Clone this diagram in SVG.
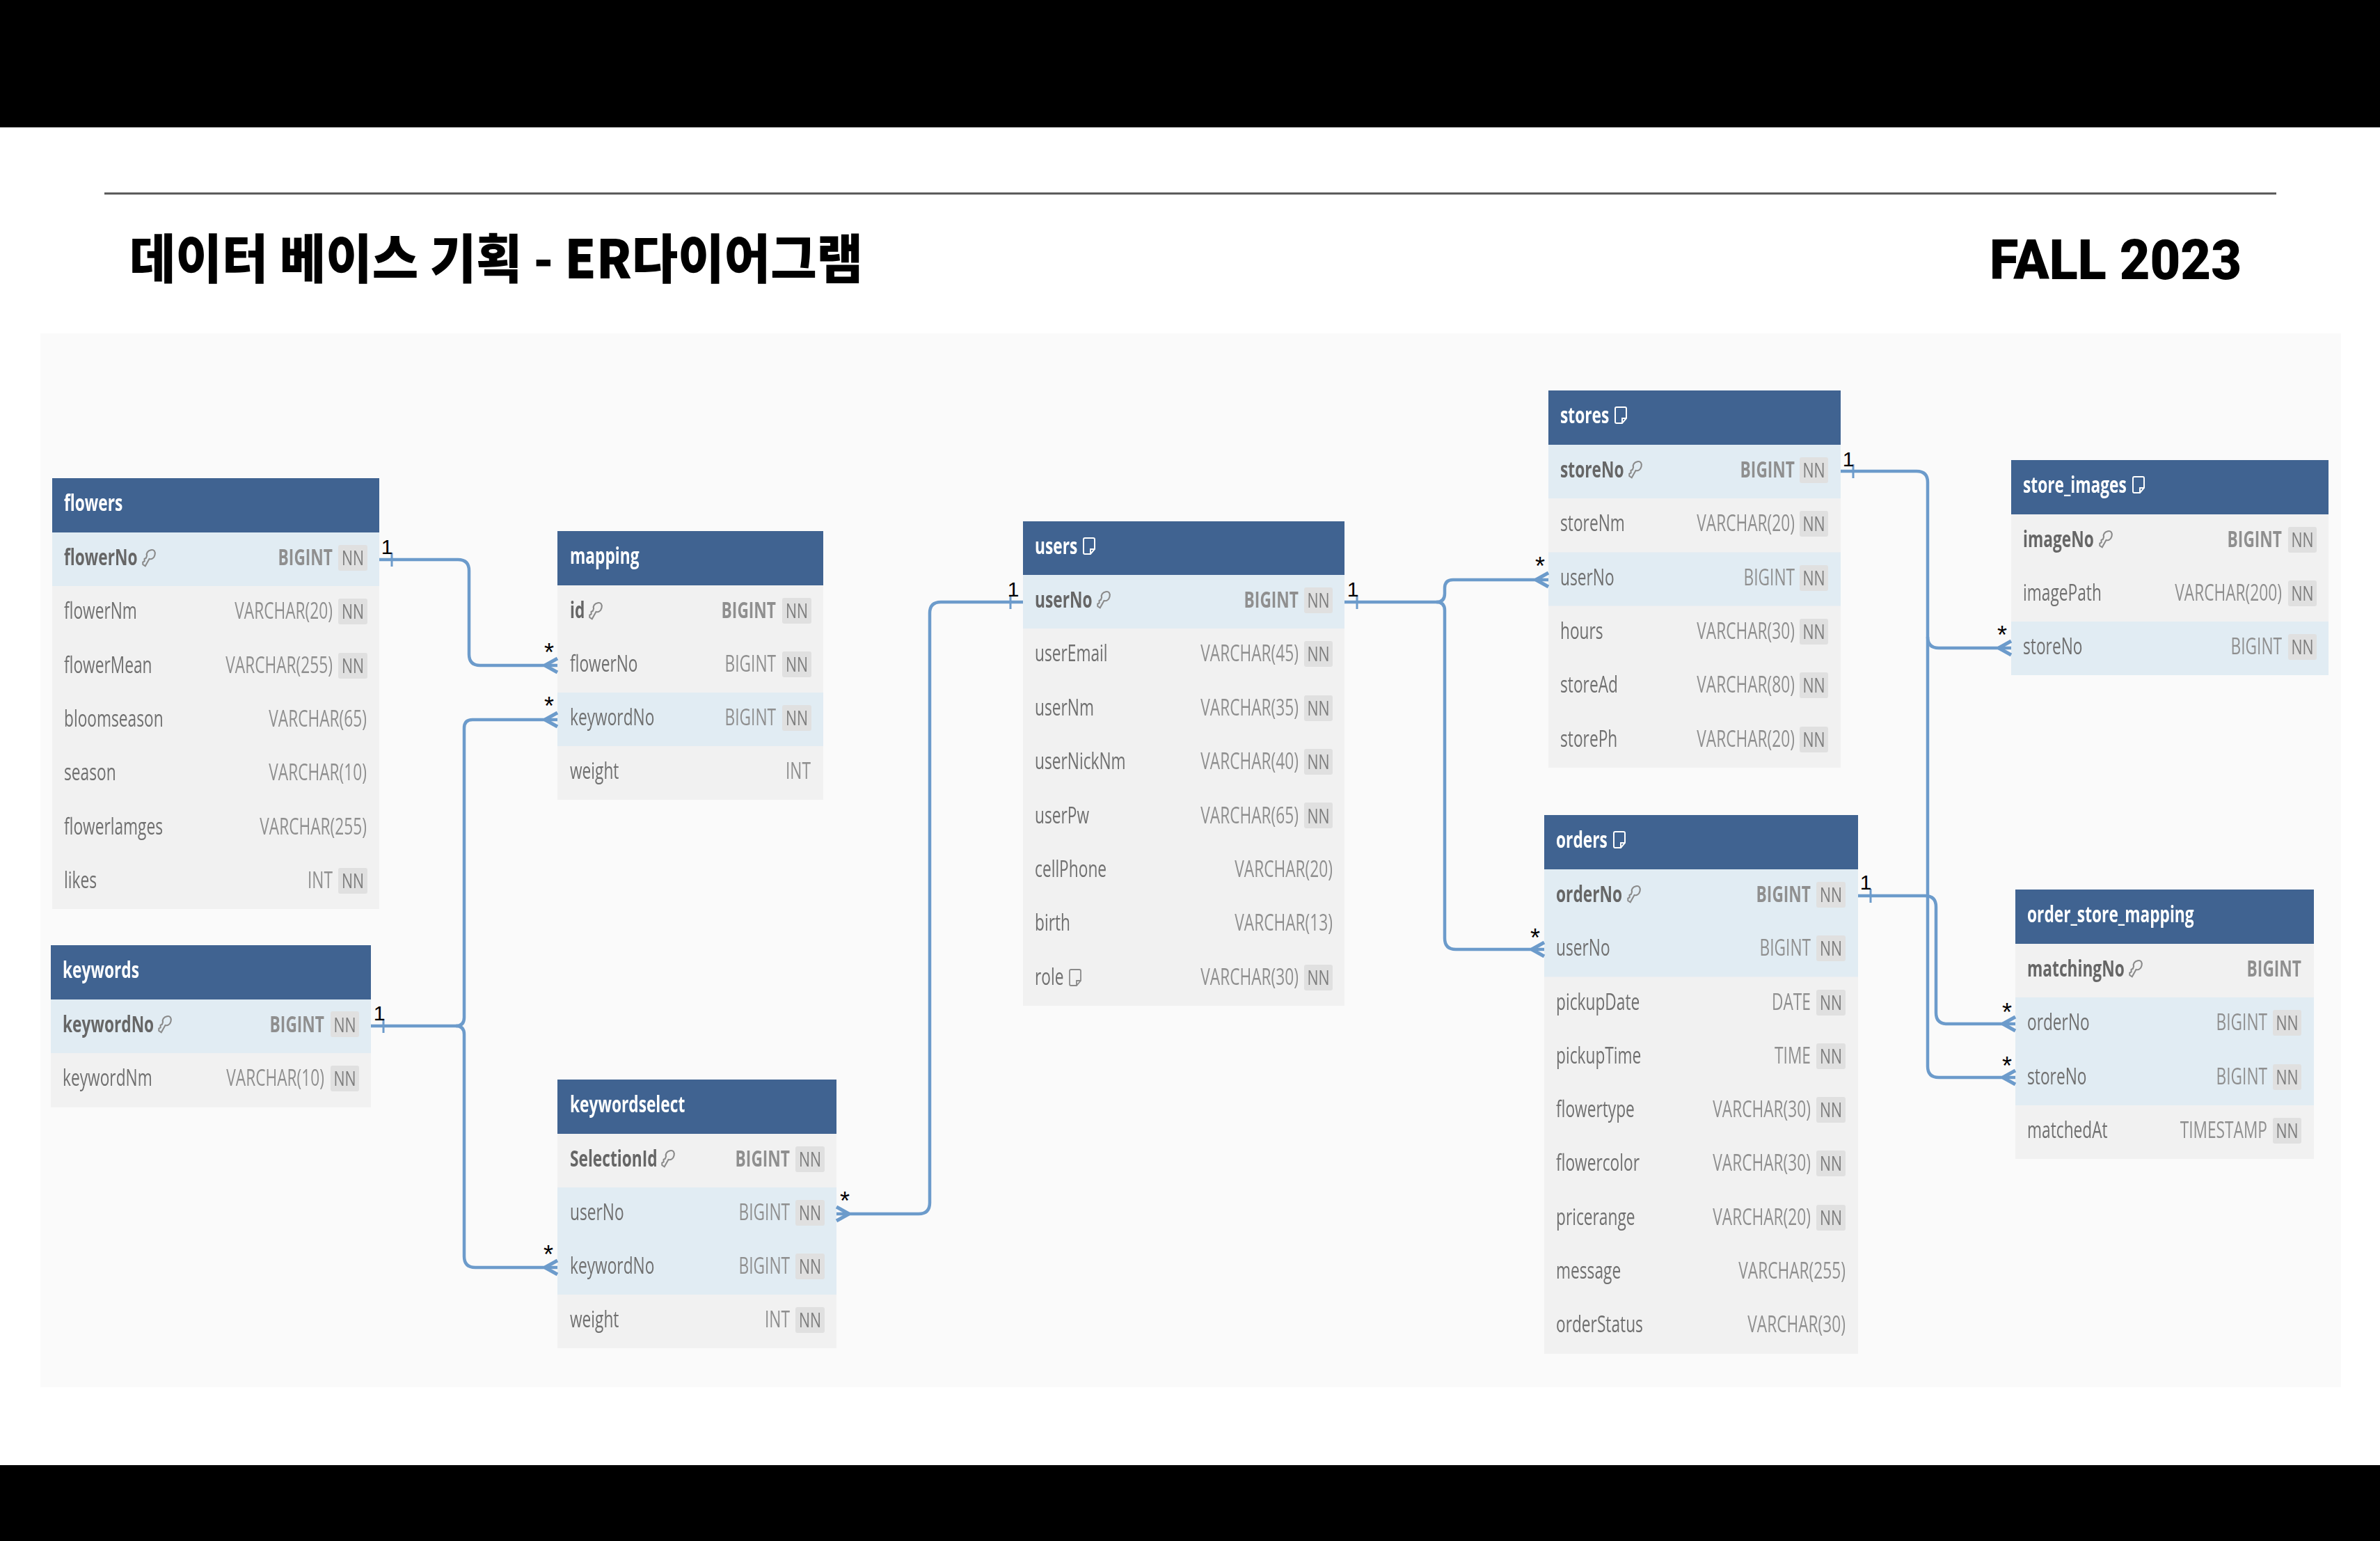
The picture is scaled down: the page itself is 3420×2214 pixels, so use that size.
<svg xmlns="http://www.w3.org/2000/svg" width="3420" height="2214" viewBox="0 0 3420 2214">
<style>
text{font-family:"Open Sans","Noto Sans",sans-serif;font-size:32px}
.hd{fill:#3f6491}.bd{fill:#f1f1f1}.hl{fill:#e1ecf3}.bg{fill:#e0e0e0}
.ti{fill:#fff;font-weight:700}
.n{fill:#6f6f6f}.k{fill:#666;font-weight:700}
.e{text-anchor:end}.m{text-anchor:middle}
.ty{fill:#8f8f8f}.tk{fill:#8f8f8f;font-weight:700}
.nn{fill:#7d7d7d;font-size:30px}
.c{fill:none;stroke:#6c9bcb;stroke-width:4.5}
.lb{font-family:"Liberation Sans",Arial,sans-serif;fill:#000;text-anchor:middle}
.one{font-size:30px}.st{font-size:36px}
.ic{fill:none;stroke:#8a8a8a;stroke-width:1.8}
.icw{fill:none;stroke:#fff;stroke-width:2}
.tb{filter:url(#soft)}
</style>
<defs>
<filter id="soft" x="-2%" y="-2%" width="104%" height="104%"><feGaussianBlur stdDeviation="0.7"/></filter>
<marker id="many" markerUnits="userSpaceOnUse" markerWidth="26" markerHeight="30" viewBox="0 0 26 30" refX="24" refY="15" orient="auto"><path d="M6 15L24 5M6 15L24 25" fill="none" stroke="#6c9bcb" stroke-width="5"/></marker>
<marker id="one" markerUnits="userSpaceOnUse" markerWidth="26" markerHeight="26" viewBox="0 0 26 26" refX="0" refY="13" orient="auto"><path d="M18 3V23" fill="none" stroke="#6c9bcb" stroke-width="3"/></marker>
<path id="key" class="ic" transform="scale(1.15)" d="M12 2c4-1 6 2 5 6s-4 6-7 5l-5 9-3-2v-3l2-1v-3l2-1 1-3C6 6 8 3 12 2z"/>
<path id="note" class="ic" d="M3 1H15Q17 1 17 3V17L11 24H3Q1 24 1 22V3Q1 1 3 1ZM17 17H11V24"/>
<path id="notew" class="icw" d="M3 1H15Q17 1 17 3V17L11 24H3Q1 24 1 22V3Q1 1 3 1ZM17 17H11V24"/>
</defs>

<rect width="3420" height="2214" fill="#fff"/>
<rect x="0" y="0" width="3420" height="183" fill="#000"/>
<rect x="0" y="2105" width="3420" height="109" fill="#000"/>
<rect x="150" y="276.500" width="3121" height="3" fill="#555"/>
<text x="186" y="400" textLength="1054" lengthAdjust="spacingAndGlyphs" style="font-family:'Noto Sans CJK KR','Noto Sans',sans-serif;font-size:76px;font-weight:900" fill="#000">데이터 베이스 기획 - ER다이어그램</text>
<text x="2859" y="401" textLength="362" lengthAdjust="spacingAndGlyphs" style="font-family:Roboto,sans-serif;font-size:80px;font-weight:900" fill="#000">FALL 2023</text>
<rect x="58" y="479" width="3306" height="1514" fill="#fafafa"/>

<g id="flowers" class="tb">
<rect class="hd" x="75" y="687" width="470" height="78"/><rect class="bd" x="75" y="765" width="470" height="541"/><rect class="hl" x="75" y="765" width="470" height="77"/>
<rect class="bg" x="486" y="783" width="42" height="37" rx="3"/><rect class="bg" x="486" y="860" width="42" height="37" rx="3"/><rect class="bg" x="486" y="938" width="42" height="37" rx="3"/><rect class="bg" x="486" y="1247" width="42" height="37" rx="3"/>
<g transform="translate(92 1.500) scale(.71 1)"><text class="ti" y="733">flowers</text><text class="k" y="811">flowerNo</text><text class="n" y="888">flowerNm</text><text class="n" y="966">flowerMean</text><text class="n" y="1043">bloomseason</text><text class="n" y="1120">season</text><text class="n" y="1198">flowerlamges</text><text class="n" y="1275">likes</text></g>
<g transform="translate(478 1.500) scale(.71 1)"><text class="tk e" y="811">BIGINT</text><text class="ty e" y="888">VARCHAR(20)</text><text class="ty e" y="966">VARCHAR(255)</text><text class="ty e" y="1275">INT</text></g>
<g transform="translate(527 1.500) scale(.71 1)"><text class="ty e" y="1043">VARCHAR(65)</text><text class="ty e" y="1120">VARCHAR(10)</text><text class="ty e" y="1198">VARCHAR(255)</text></g>
<g transform="translate(507 1.500) scale(.71 1)"><text class="nn m" y="811">NN</text><text class="nn m" y="888">NN</text><text class="nn m" y="966">NN</text><text class="nn m" y="1275">NN</text></g>
<use href="#key" x="203" y="788"/>
</g>

<g id="mapping" class="tb">
<rect class="hd" x="801" y="763" width="382" height="78"/><rect class="bd" x="801" y="841" width="382" height="308"/><rect class="hl" x="801" y="995" width="382" height="77"/>
<rect class="bg" x="1124" y="859" width="42" height="37" rx="3"/><rect class="bg" x="1124" y="936" width="42" height="37" rx="3"/><rect class="bg" x="1124" y="1013" width="42" height="37" rx="3"/>
<g transform="translate(819 1.500) scale(.71 1)"><text class="ti" y="809">mapping</text><text class="k" y="887">id</text><text class="n" y="964">flowerNo</text><text class="n" y="1041">keywordNo</text><text class="n" y="1118">weight</text></g>
<g transform="translate(1115 1.500) scale(.71 1)"><text class="tk e" y="887">BIGINT</text><text class="ty e" y="964">BIGINT</text><text class="ty e" y="1041">BIGINT</text></g>
<g transform="translate(1165 1.500) scale(.71 1)"><text class="ty e" y="1118">INT</text></g>
<g transform="translate(1145 1.500) scale(.71 1)"><text class="nn m" y="887">NN</text><text class="nn m" y="964">NN</text><text class="nn m" y="1041">NN</text></g>
<use href="#key" x="845" y="864"/>
</g>

<g id="keywords" class="tb">
<rect class="hd" x="73" y="1358" width="460" height="78"/><rect class="bd" x="73" y="1436" width="460" height="155"/><rect class="hl" x="73" y="1436" width="460" height="77"/>
<rect class="bg" x="475" y="1453" width="41" height="37" rx="3"/><rect class="bg" x="475" y="1531" width="41" height="37" rx="3"/>
<g transform="translate(90 1.500) scale(.71 1)"><text class="ti" y="1404">keywords</text><text class="k" y="1482">keywordNo</text><text class="n" y="1559">keywordNm</text></g>
<g transform="translate(466 1.500) scale(.71 1)"><text class="tk e" y="1482">BIGINT</text><text class="ty e" y="1559">VARCHAR(10)</text></g>
<g transform="translate(495.500 1.500) scale(.71 1)"><text class="nn m" y="1482">NN</text><text class="nn m" y="1559">NN</text></g>
<use href="#key" x="226" y="1458"/>
</g>

<g id="keywordselect" class="tb">
<rect class="hd" x="801" y="1551" width="401" height="78"/><rect class="bd" x="801" y="1629" width="401" height="308"/><rect class="hl" x="801" y="1706" width="401" height="154"/>
<rect class="bg" x="1143" y="1647" width="42" height="37" rx="3"/><rect class="bg" x="1143" y="1724" width="42" height="37" rx="3"/><rect class="bg" x="1143" y="1801" width="42" height="37" rx="3"/><rect class="bg" x="1143" y="1878" width="42" height="37" rx="3"/>
<g transform="translate(819 1.500) scale(.71 1)"><text class="ti" y="1597">keywordselect</text><text class="k" y="1675">SelectionId</text><text class="n" y="1752">userNo</text><text class="n" y="1829">keywordNo</text><text class="n" y="1906">weight</text></g>
<g transform="translate(1135 1.500) scale(.71 1)"><text class="tk e" y="1675">BIGINT</text><text class="ty e" y="1752">BIGINT</text><text class="ty e" y="1829">BIGINT</text><text class="ty e" y="1906">INT</text></g>
<g transform="translate(1164 1.500) scale(.71 1)"><text class="nn m" y="1675">NN</text><text class="nn m" y="1752">NN</text><text class="nn m" y="1829">NN</text><text class="nn m" y="1906">NN</text></g>
<use href="#key" x="949" y="1651"/>
</g>

<g id="users" class="tb">
<rect class="hd" x="1470" y="749" width="462" height="77"/><rect class="bd" x="1470" y="826" width="462" height="619"/><rect class="hl" x="1470" y="826" width="462" height="77"/>
<rect class="bg" x="1874" y="844" width="41" height="37" rx="3"/><rect class="bg" x="1874" y="921" width="41" height="37" rx="3"/><rect class="bg" x="1874" y="999" width="41" height="37" rx="3"/><rect class="bg" x="1874" y="1076" width="41" height="37" rx="3"/><rect class="bg" x="1874" y="1153" width="41" height="37" rx="3"/><rect class="bg" x="1874" y="1386" width="41" height="37" rx="3"/>
<g transform="translate(1487 1.500) scale(.71 1)"><text class="ti" y="795">users</text><text class="k" y="872">userNo</text><text class="n" y="949">userEmail</text><text class="n" y="1027">userNm</text><text class="n" y="1104">userNickNm</text><text class="n" y="1182">userPw</text><text class="n" y="1259">cellPhone</text><text class="n" y="1336">birth</text><text class="n" y="1414">role</text></g>
<g transform="translate(1866 1.500) scale(.71 1)"><text class="tk e" y="872">BIGINT</text><text class="ty e" y="949">VARCHAR(45)</text><text class="ty e" y="1027">VARCHAR(35)</text><text class="ty e" y="1104">VARCHAR(40)</text><text class="ty e" y="1182">VARCHAR(65)</text><text class="ty e" y="1414">VARCHAR(30)</text></g>
<g transform="translate(1915 1.500) scale(.71 1)"><text class="ty e" y="1259">VARCHAR(20)</text><text class="ty e" y="1336">VARCHAR(13)</text></g>
<g transform="translate(1894.500 1.500) scale(.71 1)"><text class="nn m" y="872">NN</text><text class="nn m" y="949">NN</text><text class="nn m" y="1027">NN</text><text class="nn m" y="1104">NN</text><text class="nn m" y="1182">NN</text><text class="nn m" y="1414">NN</text></g>
<use href="#notew" x="1556" y="772"/><use href="#key" x="1575" y="848"/><use href="#note" x="1536" y="1392"/>
</g>

<g id="stores" class="tb">
<rect class="hd" x="2225" y="561" width="420" height="78"/><rect class="bd" x="2225" y="639" width="420" height="464"/><rect class="hl" x="2225" y="639" width="420" height="77"/><rect class="hl" x="2225" y="793.500" width="420" height="77"/>
<rect class="bg" x="2586" y="657" width="41" height="37" rx="3"/><rect class="bg" x="2586" y="734" width="41" height="37" rx="3"/><rect class="bg" x="2586" y="812" width="41" height="37" rx="3"/><rect class="bg" x="2586" y="889" width="41" height="37" rx="3"/><rect class="bg" x="2586" y="966" width="41" height="37" rx="3"/><rect class="bg" x="2586" y="1044" width="41" height="37" rx="3"/>
<g transform="translate(2242 1.500) scale(.71 1)"><text class="ti" y="607">stores</text><text class="k" y="685">storeNo</text><text class="n" y="762">storeNm</text><text class="n" y="840">userNo</text><text class="n" y="917">hours</text><text class="n" y="994">storeAd</text><text class="n" y="1072">storePh</text></g>
<g transform="translate(2579 1.500) scale(.71 1)"><text class="tk e" y="685">BIGINT</text><text class="ty e" y="762">VARCHAR(20)</text><text class="ty e" y="840">BIGINT</text><text class="ty e" y="917">VARCHAR(30)</text><text class="ty e" y="994">VARCHAR(80)</text><text class="ty e" y="1072">VARCHAR(20)</text></g>
<g transform="translate(2606.500 1.500) scale(.71 1)"><text class="nn m" y="685">NN</text><text class="nn m" y="762">NN</text><text class="nn m" y="840">NN</text><text class="nn m" y="917">NN</text><text class="nn m" y="994">NN</text><text class="nn m" y="1072">NN</text></g>
<use href="#notew" x="2320" y="584"/><use href="#key" x="2339" y="661"/>
</g>

<g id="store_images" class="tb">
<rect class="hd" x="2890" y="661" width="456" height="78"/><rect class="bd" x="2890" y="739" width="456" height="231"/><rect class="hl" x="2890" y="893" width="456" height="77"/>
<rect class="bg" x="3288" y="757" width="41" height="37" rx="3"/><rect class="bg" x="3288" y="834" width="41" height="37" rx="3"/><rect class="bg" x="3288" y="911" width="41" height="37" rx="3"/>
<g transform="translate(2907 1.500) scale(.71 1)"><text class="ti" y="707">store_images</text><text class="k" y="785">imageNo</text><text class="n" y="862">imagePath</text><text class="n" y="939">storeNo</text></g>
<g transform="translate(3279 1.500) scale(.71 1)"><text class="tk e" y="785">BIGINT</text><text class="ty e" y="862">VARCHAR(200)</text><text class="ty e" y="939">BIGINT</text></g>
<g transform="translate(3308.500 1.500) scale(.71 1)"><text class="nn m" y="785">NN</text><text class="nn m" y="862">NN</text><text class="nn m" y="939">NN</text></g>
<use href="#notew" x="3064" y="684"/><use href="#key" x="3015" y="761"/>
</g>

<g id="orders" class="tb">
<rect class="hd" x="2219" y="1171" width="451" height="78"/><rect class="bd" x="2219" y="1249" width="451" height="696"/><rect class="hl" x="2219" y="1249" width="451" height="154.500"/>
<rect class="bg" x="2610" y="1267" width="42" height="37" rx="3"/><rect class="bg" x="2610" y="1344" width="42" height="37" rx="3"/><rect class="bg" x="2610" y="1422" width="42" height="37" rx="3"/><rect class="bg" x="2610" y="1499" width="42" height="37" rx="3"/><rect class="bg" x="2610" y="1576" width="42" height="37" rx="3"/><rect class="bg" x="2610" y="1653" width="42" height="37" rx="3"/><rect class="bg" x="2610" y="1731" width="42" height="37" rx="3"/>
<g transform="translate(2236 1.500) scale(.71 1)"><text class="ti" y="1217">orders</text><text class="k" y="1295">orderNo</text><text class="n" y="1372">userNo</text><text class="n" y="1450">pickupDate</text><text class="n" y="1527">pickupTime</text><text class="n" y="1604">flowertype</text><text class="n" y="1681">flowercolor</text><text class="n" y="1759">pricerange</text><text class="n" y="1836">message</text><text class="n" y="1913">orderStatus</text></g>
<g transform="translate(2602 1.500) scale(.71 1)"><text class="tk e" y="1295">BIGINT</text><text class="ty e" y="1372">BIGINT</text><text class="ty e" y="1450">DATE</text><text class="ty e" y="1527">TIME</text><text class="ty e" y="1604">VARCHAR(30)</text><text class="ty e" y="1681">VARCHAR(30)</text><text class="ty e" y="1759">VARCHAR(20)</text></g>
<g transform="translate(2652 1.500) scale(.71 1)"><text class="ty e" y="1836">VARCHAR(255)</text><text class="ty e" y="1913">VARCHAR(30)</text></g>
<g transform="translate(2631 1.500) scale(.71 1)"><text class="nn m" y="1295">NN</text><text class="nn m" y="1372">NN</text><text class="nn m" y="1450">NN</text><text class="nn m" y="1527">NN</text><text class="nn m" y="1604">NN</text><text class="nn m" y="1681">NN</text><text class="nn m" y="1759">NN</text></g>
<use href="#notew" x="2318" y="1194"/><use href="#key" x="2337" y="1271"/>
</g>

<g id="order_store_mapping" class="tb">
<rect class="hd" x="2896" y="1278" width="429" height="78"/><rect class="bd" x="2896" y="1356" width="429" height="309"/><rect class="hl" x="2896" y="1433" width="429" height="155"/>
<rect class="bg" x="3266" y="1451" width="41" height="37" rx="3"/><rect class="bg" x="3266" y="1529" width="41" height="37" rx="3"/><rect class="bg" x="3266" y="1606" width="41" height="37" rx="3"/>
<g transform="translate(2913 1.500) scale(.71 1)"><text class="ti" y="1324">order_store_mapping</text><text class="k" y="1402">matchingNo</text><text class="n" y="1479">orderNo</text><text class="n" y="1557">storeNo</text><text class="n" y="1634">matchedAt</text></g>
<g transform="translate(3258 1.500) scale(.71 1)"><text class="ty e" y="1479">BIGINT</text><text class="ty e" y="1557">BIGINT</text><text class="ty e" y="1634">TIMESTAMP</text></g>
<g transform="translate(3307 1.500) scale(.71 1)"><text class="tk e" y="1402">BIGINT</text></g>
<g transform="translate(3286.500 1.500) scale(.71 1)"><text class="nn m" y="1479">NN</text><text class="nn m" y="1557">NN</text><text class="nn m" y="1634">NN</text></g>
<use href="#key" x="3058" y="1378"/>
</g>

<g id="connectors">
<path class="c" marker-start="url(#one)" marker-end="url(#many)" d="M545 804H658Q674 804 674 820V940Q674 956 690 956H801"/>
<path class="c" marker-start="url(#one)" marker-end="url(#many)" d="M533 1474H655Q667 1474 667 1462V1046Q667 1034 679 1034H801"/>
<path class="c" marker-end="url(#many)" d="M655 1474Q667 1474 667 1486V1805Q667 1821 683 1821H801"/>
<path class="c" marker-start="url(#one)" marker-end="url(#many)" d="M1470 865H1352Q1336 865 1336 881V1728Q1336 1744 1320 1744H1202"/>
<path class="c" marker-start="url(#one)" marker-end="url(#many)" d="M1932 865H2064Q2076 865 2076 853V845Q2076 833 2088 833H2225"/>
<path class="c" marker-end="url(#many)" d="M2064 865Q2076 865 2076 877V1348Q2076 1364 2092 1364H2219"/>
<path class="c" marker-start="url(#one)" marker-end="url(#many)" d="M2645 677H2754Q2770 677 2770 693V915Q2770 931 2786 931H2890"/>
<path class="c" marker-end="url(#many)" d="M2770 915V1532Q2770 1548 2786 1548H2896"/>
<path class="c" marker-start="url(#one)" marker-end="url(#many)" d="M2670 1287H2766Q2782 1287 2782 1303V1455Q2782 1471 2798 1471H2896"/>
<g>
<text class="lb one" x="556" y="796">1</text><text class="lb st" x="789" y="950">*</text>
<text class="lb st" x="789" y="1027">*</text>
<text class="lb one" x="545" y="1466">1</text><text class="lb st" x="788" y="1815">*</text>
<text class="lb st" x="1214" y="1738">*</text><text class="lb one" x="1456" y="857">1</text>
<text class="lb one" x="1944" y="857">1</text><text class="lb st" x="2213" y="826">*</text><text class="lb st" x="2206" y="1360">*</text>
<text class="lb one" x="2656" y="670">1</text><text class="lb st" x="2877" y="925">*</text>
<text class="lb one" x="2681" y="1278">1</text><text class="lb st" x="2884" y="1467">*</text><text class="lb st" x="2884" y="1544">*</text>
</g>
</g>
</svg>
